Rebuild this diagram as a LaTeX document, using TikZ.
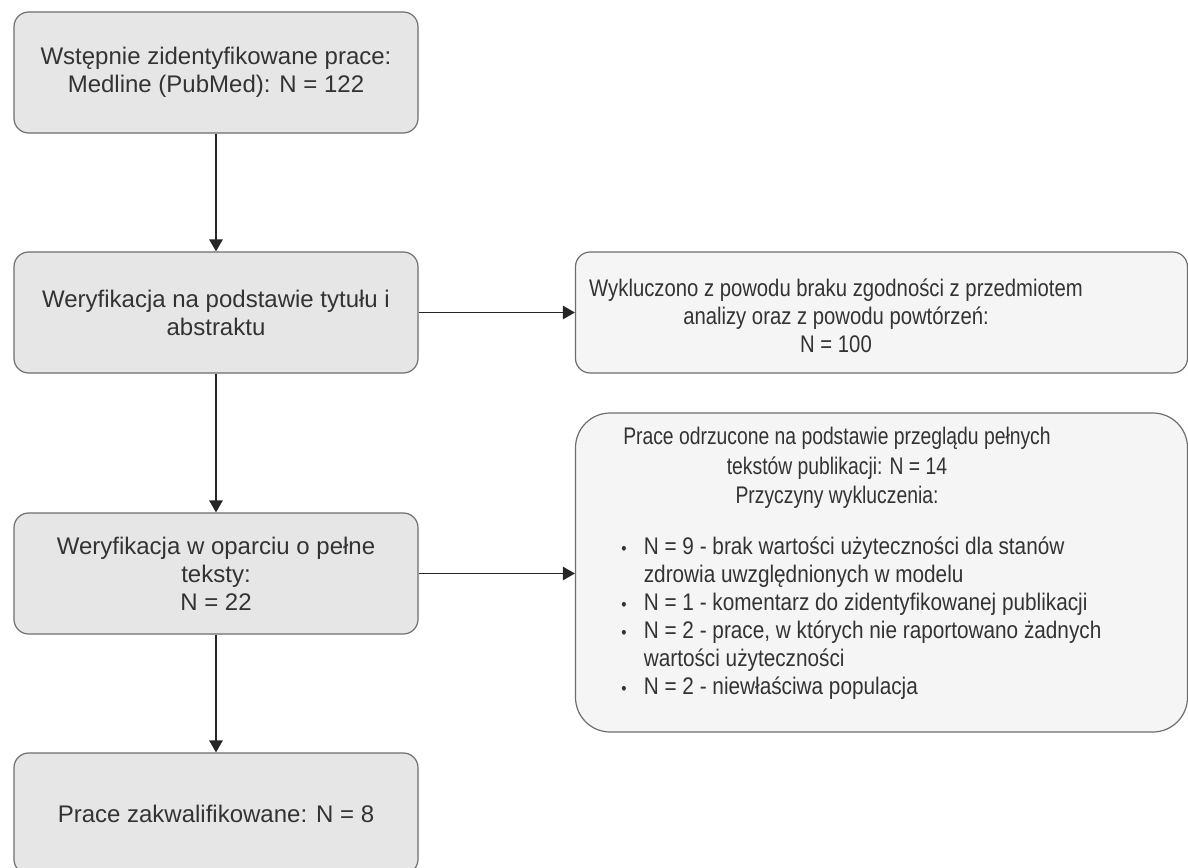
\documentclass[tikz,border=0pt]{standalone}
\usepackage{fontspec}
\setmainfont{Liberation Sans}
\newfontfamily\rnarrow[FakeStretch=0.845]{Liberation Sans}
\newfontfamily\rhead[FakeStretch=0.805]{Liberation Sans}
\newfontfamily\rlist[FakeStretch=0.865]{Liberation Sans}
\usetikzlibrary{arrows.meta}
\definecolor{leftfill}{RGB}{230,230,230}
\definecolor{rightfill}{RGB}{245,245,245}
\definecolor{boxline}{RGB}{110,110,110}
\definecolor{txt}{RGB}{51,51,51}
\tikzset{
  lbox/.style={draw=boxline, fill=leftfill, line width=0.9pt, rounded corners=11pt,
    minimum width=303pt, minimum height=90.75pt, inner sep=0pt, align=center,
    text=txt, font=\fontsize{18}{21}\selectfont},
  rbox/.style={draw=boxline, fill=rightfill, line width=0.9pt, rounded corners=11pt,
    minimum width=459pt, inner sep=0pt},
  rtext/.style={align=center, text=txt, inner sep=0pt, font=\rnarrow\fontsize{18}{21}\selectfont},
  conn/.style={-{Triangle[length=9pt,width=10pt]}, line width=1.25pt, draw=black!85}
}
\begin{document}
\begin{tikzpicture}[x=0.75pt,y=-0.75pt]
\useasboundingbox (0,0) rectangle (1188,867);
\clip (0,0) rectangle (1188,867);
\fill[white] (0,0) rectangle (1188,867);
% left column
\node[lbox] (b1) at (216,72.5) {Wstępnie zidentyfikowane prace:\\Medline (PubMed): N = 122};
\node[lbox] (b2) at (216,312.5) {Weryfikacja na podstawie tytułu i\\abstraktu};
\node[lbox] (b3) at (216,573.5) {Weryfikacja w oparciu o pełne\\teksty:\\N = 22};
\node[lbox] (b4) at (216,813.5) {Prace zakwalifikowane: N = 8};
% right column
\node[rbox, minimum height=90.75pt] (r1) at (881.5,312.5) {};
\node[rtext] (r1t) at (836,316) {Wykluczono z powodu braku zgodności z przedmiotem\\analizy oraz z powodu powtórzeń:\\N = 100};
\node[rbox, rounded corners=26pt, minimum height=239.25pt] (r2) at (881.5,572.5) {};
\node[rtext, font=\rhead\fontsize{18}{22}\selectfont] (r2h) at (837,468) {Prace odrzucone na podstawie przeglądu pełnych\\tekstów publikacji: N = 14\\Przyczyny wykluczenia:};
\node[anchor=north west, inner sep=0pt, text=txt, font=\rlist\fontsize{18}{21}\selectfont] (r2l) at (621,535)
{\begin{tabular}{@{}l@{\hspace{13pt}}l@{}}
{\fontsize{13}{13}\selectfont •} & N = 9 - brak wartości użyteczności dla stanów\\
 & zdrowia uwzględnionych w modelu\\
{\fontsize{13}{13}\selectfont •} & N = 1 - komentarz do zidentyfikowanej publikacji\\
{\fontsize{13}{13}\selectfont •} & N = 2 - prace, w których nie raportowano żadnych\\
 & wartości użyteczności\\
{\fontsize{13}{13}\selectfont •} & N = 2 - niewłaściwa populacja
\end{tabular}};
% connectors
\draw[conn] (b1) -- (b2);
\draw[conn] (b2) -- (b3);
\draw[conn] (b3) -- (b4);
\draw[conn] (b2) -- (r1);
\draw[conn] (b3.east) -- (r2.west |- b3.east);
\end{tikzpicture}
\end{document}
